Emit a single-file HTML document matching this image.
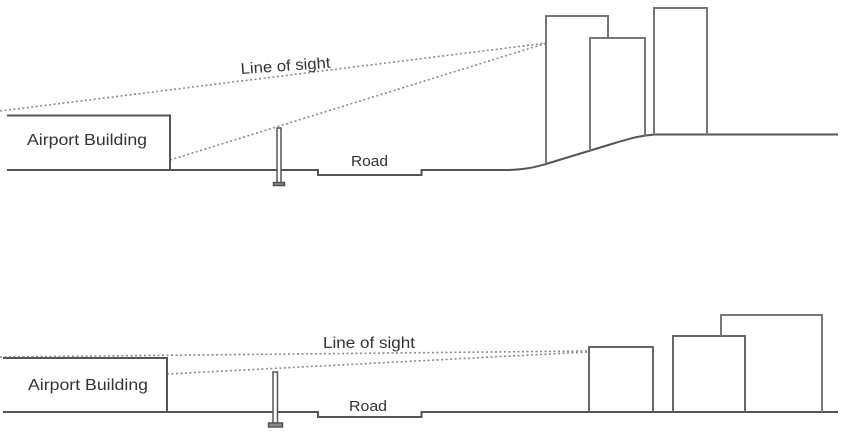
<!DOCTYPE html>
<html><head><meta charset="utf-8"><style>
html,body{margin:0;padding:0;background:#fff;}
svg{display:block;}
text{font-family:"Liberation Sans",sans-serif;fill:#333;}
</style></head><body>
<svg width="844" height="435" viewBox="0 0 844 435" xmlns="http://www.w3.org/2000/svg">
<g fill="none" stroke-linejoin="miter">
<!-- TOP DIAGRAM -->
<!-- dotted lines -->
<path d="M0 111 L547 43" stroke="#8a8a8a" stroke-width="1.6" stroke-dasharray="2 2.5"/>
<path d="M170 160 L547 43" stroke="#8a8a8a" stroke-width="1.6" stroke-dasharray="2 2.5"/>
<!-- airport -->
<path d="M7 115.5 H170 V170" stroke="#555" stroke-width="2"/>
<!-- ground -->
<path d="M7 170 H318 V175 H421.5 V170 H505 C525 170 535 167 546 164 L615 143 C630 138.5 640 135.5 655 134.5 H838" stroke="#555" stroke-width="2"/>
<!-- post -->
<rect x="277" y="128" width="4" height="55" stroke="#555" stroke-width="1.5" fill="#fff"/>
<rect x="273.5" y="182.5" width="11" height="3" stroke="#555" stroke-width="1.5" fill="#888"/>
<!-- buildings -->
<path d="M546 164 V16 H608 V38" stroke="#777" stroke-width="2"/>
<path d="M590 151 V38 H645 V136" stroke="#777" stroke-width="2"/>
<path d="M654 135 V8 H707 V135" stroke="#777" stroke-width="2"/>

<!-- BOTTOM DIAGRAM -->
<path d="M0 357 L588 351" stroke="#8a8a8a" stroke-width="1.6" stroke-dasharray="2 2.5"/>
<path d="M167 374 L588 352" stroke="#8a8a8a" stroke-width="1.6" stroke-dasharray="2 2.5"/>
<path d="M3 358 H167 V412" stroke="#555" stroke-width="2"/>
<path d="M3 412 H318 V417 H421.5 V412 H838" stroke="#555" stroke-width="2"/>
<rect x="273" y="372" width="4.5" height="51" stroke="#555" stroke-width="1.5" fill="#fff"/>
<rect x="268.5" y="423" width="14" height="4" stroke="#555" stroke-width="1.5" fill="#888"/>
<path d="M589 412 V347 H653 V412" stroke="#666" stroke-width="2"/>
<path d="M673 412 V336 H745 V412" stroke="#666" stroke-width="2"/>
<path d="M721 336 V315 H822 V412" stroke="#777" stroke-width="2"/>
</g>

<!-- labels -->
<text x="27" y="145" font-size="16" textLength="120" lengthAdjust="spacingAndGlyphs">Airport Building</text>
<text x="351" y="166" font-size="15" textLength="37" lengthAdjust="spacingAndGlyphs">Road</text>
<text x="241" y="74" font-size="15.5" textLength="90" lengthAdjust="spacingAndGlyphs" transform="rotate(-4 241 74)">Line of sight</text>

<text x="28" y="390" font-size="16" textLength="120" lengthAdjust="spacingAndGlyphs">Airport Building</text>
<text x="349" y="411" font-size="15" textLength="38" lengthAdjust="spacingAndGlyphs">Road</text>
<text x="323" y="348" font-size="16" textLength="92" lengthAdjust="spacingAndGlyphs">Line of sight</text>
</svg>
</body></html>
